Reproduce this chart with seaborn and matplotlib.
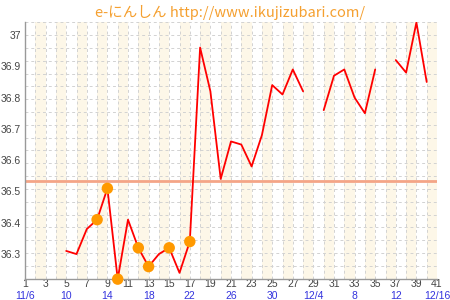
import numpy as np
import pandas as pd
import matplotlib
matplotlib.use("Agg")
import matplotlib.pyplot as plt
import seaborn as sns

# ---- data ----
days = list(range(1, 42))
temps = [np.nan, np.nan, np.nan, np.nan,
         36.31, 36.30, 36.38, 36.41, 36.51, 36.22,
         36.41, 36.32, 36.26, 36.30, 36.32, 36.24,
         36.34, 36.96, 36.82, 36.54, 36.66, 36.65,
         36.58, 36.68, 36.84, 36.81, 36.89, 36.82,
         np.nan, 36.76, 36.87, 36.89, 36.80, 36.75,
         36.89, np.nan, 36.92, 36.88, 37.04, 36.85, np.nan]
marked_days = [8, 9, 10, 12, 13, 15, 17]
cover_line = 36.533
y_ticks = [36.3, 36.4, 36.5, 36.6, 36.7, 36.8, 36.9, 37.0]
y_tick_labels = ["36.3", "36.4", "36.5", "36.6", "36.7", "36.8", "36.9", "37"]
x_tick_days = list(range(1, 42, 2))
date_days = list(range(1, 42, 4))
date_labels = ["11/6", "10", "14", "18", "22", "26", "30", "12/4", "8", "12", "12/16"]
title = "e-にんしん http://www.ikujizubari.com/"

# ---- frame ----
df = pd.DataFrame({"day": days, "temp": temps})
df["seg"] = df["temp"].isna().cumsum()
line_df = df.dropna()
mark_df = df[df["day"].isin(marked_days)]

sns.set_theme(style="white")
plt.rcParams["font.family"] = ["Liberation Sans", "DejaVu Sans"]

fig = plt.figure(figsize=(4.5, 3), dpi=100)
ax = fig.add_axes([25 / 450, 1 - 278.8 / 300, 412 / 450, 256.6 / 300])
ax.set_facecolor("white")

ymin, ymax = 36.221, 37.041
ax.set_xlim(1, 41)
ax.set_ylim(ymin, ymax)

# background stripes
for d in range(2, 41, 2):
    ax.axvspan(d, d + 1, color="#FDF7E8", lw=0, zorder=0)
# grid
for d in range(1, 42):
    ax.axvline(d, color="#D2D2D2", lw=0.7, ls=(0, (3, 3)), zorder=1)
for yv in np.linspace(ymin, ymax, 21):
    ax.axhline(yv, color="#D2D2D2", lw=0.7, ls=(0, (3, 3)), zorder=1)

ax.axhline(cover_line, color="#F4A587", lw=2, zorder=2)

sns.lineplot(data=line_df, x="day", y="temp", units="seg", estimator=None,
             color="#FF0000", lw=1.3, ax=ax, zorder=3, legend=False)
sns.scatterplot(data=mark_df, x="day", y="temp", color="#FF9900", s=68,
                edgecolor="none", ax=ax, zorder=4, clip_on=False, legend=False)

ax.set_xlabel("")
ax.set_ylabel("")
ax.set_xticks(x_tick_days)
ax.set_xticklabels([str(d) for d in x_tick_days])
ax.set_yticks(y_ticks)
ax.set_yticklabels(y_tick_labels)
ax.tick_params(axis="both", labelsize=7.5, labelcolor="#444444", color="#888888",
               length=2, width=0.8, pad=1)
ax.tick_params(axis="x", length=0, pad=0)

for sp in ["top", "right"]:
    ax.spines[sp].set_visible(False)
for sp in ["left", "bottom"]:
    ax.spines[sp].set_color("#999999")
    ax.spines[sp].set_linewidth(1)

for d, lab in zip(date_days, date_labels):
    ax.annotate(lab, xy=(d, 0), xycoords=("data", "axes fraction"),
                xytext=(0, -12.6), textcoords="offset points",
                ha="center", va="center", fontsize=7.5, color="#3333DD")

fig.text(230 / 450, 1 - 12 / 300, title, ha="center", va="center",
         fontsize=10.5, color="#F5A030",
         family=["Noto Sans CJK JP", "DejaVu Sans"])

fig.savefig("out.png", dpi=100)
